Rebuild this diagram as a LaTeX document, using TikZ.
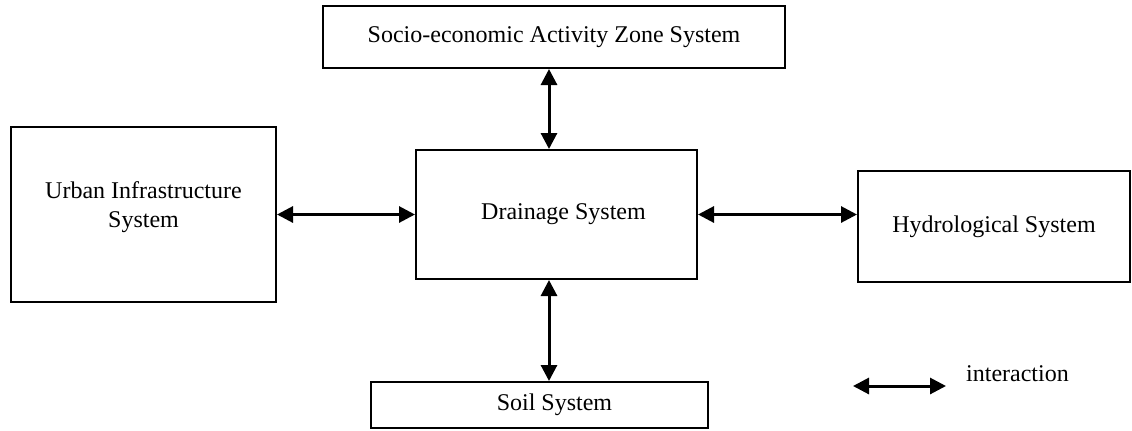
\documentclass[tikz,border=0pt]{standalone}
\usepackage{fontspec}
\setmainfont{Liberation Serif}
\usepackage{tikz}
\usetikzlibrary{calc}
\usetikzlibrary{positioning}
\usetikzlibrary{arrows.meta}

\begin{document}
\begin{tikzpicture}[x=0.5pt,y=-0.5pt,
  sysbox/.style={draw, line width=1pt, inner sep=0pt, align=center, font=\fontsize{12}{14.5}\selectfont},
  link/.style={{Triangle[length=8pt,width=8pt]}-{Triangle[length=8pt,width=8pt]}, line width=1.5pt}]
\draw[opacity=0, line width=0pt] (0,0) rectangle (1132,430);

\node[sysbox, minimum width=231pt, minimum height=31pt] (socio) at (554,37) {Socio-economic Activity Zone System};
\node[sysbox, minimum width=132.5pt, minimum height=87.5pt] (urban) at (143.5,214.5) {};
\node[align=center, font=\fontsize{12}{14.5}\selectfont] (urbantext) at (143.5,207.5) {Urban Infrastructure\\System};
\node[sysbox, minimum width=140.5pt, minimum height=64.5pt] (drain) at (556.5,214.5) {\hspace*{7pt}Drainage System};
\node[sysbox, minimum width=136pt, minimum height=55.5pt] (hydro) at (994,226.5) {Hydrological System};
\node[sysbox, minimum width=168.5pt, minimum height=23pt] (soil) at (539.5,405) {\hspace*{15pt}Soil System};

\coordinate (axis) at (549,0);
\draw[link] (drain.north -| axis) -- (socio.south -| axis);
\draw[link] (drain.south -| axis) -- (soil.north -| axis);
\draw[link] (urban.east) -- (drain.west);
\draw[link] (drain.east) -- (drain.east -| hydro.west);

\coordinate (legL) at (853,386);
\coordinate (legR) at (946,386);
\draw[link] (legL) -- (legR);
\node[anchor=base, font=\fontsize{12}{14.5}\selectfont] (legtext) at (1017.5,381) {interaction};

\end{tikzpicture}
\end{document}
